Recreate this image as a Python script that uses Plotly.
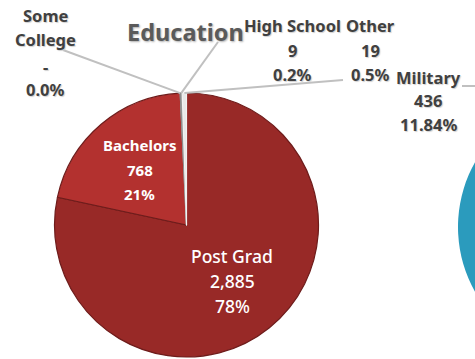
import math
import plotly.graph_objects as go

# ---------------- data ----------------
edu_labels = ["Post Grad", "Bachelors", "Some College", "High School", "Other"]
edu_values = [2885, 768, 0, 9, 19]
edu_pct_decimals = [0, 0, 1, 1, 1]

mil_labels = ["Military", "Civilian"]
mil_values = [436, 3245]
mil_pct_decimals = [2, 2]

title_text = "Education"

# ---------------- styling / layout constants ----------------
W, H = 730, 359
R = 132
EDU_C = (186.5, 225)
MIL_C = (590, 227)
MIL_ROTATION = 300

edu_colors = ["#982927", "#b3312f", "#d9d9d9", "#a0a0a0", "#e8e8e8"]
edu_line = ["#6e1c1b", "#6e1c1b", "#bfbfbf", "#8c8c8c", "#f2f2f2"]
mil_colors = ["#3aa7c6", "#2b9bbd"]

FONT = "Noto Sans, Open Sans, sans-serif"
LABEL_GRAY = "#404040"
LEADER = "#c0c0c0"

# outside label placement (px): centre x, row y's, leader end point
outside = {
    "Some College": dict(x=45, rows=[15, 40, 66, 89], end=(63, 50), name_lines=["Some", "College"]),
    "High School": dict(x=292, rows=[25, 50, 75], end=(218, 42), name_lines=["High School"]),
    "Other": dict(x=370, rows=[25, 50, 75], end=(343, 80), name_lines=["Other"]),
}
mil_outside = {
    "Military": dict(x=428, rows=[77, 100, 124], end=(462, 86), name_lines=["Military"]),
}
inside_rows = {"Post Grad": (17.5, 500, 25), "Bachelors": (15, 700, 24.5)}


def px(x, y):
    return x / W, 1 - y / H


def domain(c):
    cx, cy = c
    return dict(x=[(cx - R) / W, (cx + R) / W], y=[max(0, 1 - (cy + R) / H), min(1, 1 - (cy - R) / H)])


def mid_angles(values, rotation=0):
    tot = sum(values)
    out, acc = [], 0
    for v in values:
        out.append(rotation + (acc + v / 2) / tot * 360)
        acc += v
    return out


def polar(c, ang, rr):
    a = math.radians(ang)
    return c[0] + rr * math.sin(a), c[1] - rr * math.cos(a)


def pct_text(values, decimals):
    tot = sum(values)
    return [f"{v / tot * 100:.{d}f}%" for v, d in zip(values, decimals)]


def count_text(values):
    return [f"{v:,}" if v else "-" for v in values]


fig = go.Figure()
fig.add_trace(go.Pie(
    labels=edu_labels, values=edu_values, sort=False, direction="clockwise", rotation=0,
    domain=domain(EDU_C), textinfo="none", showlegend=False,
    marker=dict(colors=edu_colors, line=dict(color=edu_line, width=1.2)),
))
fig.add_trace(go.Pie(
    labels=mil_labels, values=mil_values, sort=False, direction="clockwise", rotation=MIL_ROTATION,
    domain=domain(MIL_C), textinfo="none", showlegend=False,
    marker=dict(colors=mil_colors, line=dict(color="#ffffff", width=0)),
))

annotations = []
shapes = []


def add_rows(lines, x, rows, size, color, weight, shadow="none"):
    for line, y in zip(lines, rows):
        ax, ay = px(x, y)
        annotations.append(dict(
            x=ax, y=ay, xref="paper", yref="paper", text=line, showarrow=False,
            xanchor="center", yanchor="middle",
            font=dict(family=FONT, size=size, color=color, weight=weight, shadow=shadow),
        ))


edu_pct = pct_text(edu_values, edu_pct_decimals)
edu_cnt = count_text(edu_values)
edu_mid = mid_angles(edu_values)

for i, lab in enumerate(edu_labels):
    if lab in inside_rows:
        size, weight, sp = inside_rows[lab]
        cx, cy = polar(EDU_C, edu_mid[i], 0.55 * R)
        add_rows([lab, edu_cnt[i], edu_pct[i]], cx, [cy - sp, cy, cy + sp], size, "#ffffff", weight)
    else:
        o = outside[lab]
        add_rows(o["name_lines"] + [edu_cnt[i], edu_pct[i]], o["x"], o["rows"], 16.5, LABEL_GRAY, 700,
                 "1px 1px 1px #d0d0d0")
        sx, sy = polar(EDU_C, edu_mid[i], R)
        x0, y0 = px(sx, sy)
        x1, y1 = px(*o["end"])
        shapes.append(dict(type="line", xref="paper", yref="paper", x0=x0, y0=y0, x1=x1, y1=y1,
                           line=dict(color=LEADER, width=2)))

mil_pct = pct_text(mil_values, mil_pct_decimals)
mil_cnt = count_text(mil_values)
mil_mid = mid_angles(mil_values, MIL_ROTATION)
for i, lab in enumerate(mil_labels):
    if lab in mil_outside:
        o = mil_outside[lab]
        add_rows(o["name_lines"] + [mil_cnt[i], mil_pct[i]], o["x"], o["rows"], 16.5, LABEL_GRAY, 700,
                 "1px 1px 1px #d0d0d0")
        sx, sy = polar(MIL_C, mil_mid[i], R)
        ex, ey = o["end"]
        p0 = px(ex, ey)
        p1 = px(ex + 40, ey)
        p2 = px(sx, sy)
        shapes.append(dict(type="path", xref="paper", yref="paper",
                           path=f"M {p0[0]} {p0[1]} L {p1[0]} {p1[1]} L {p2[0]} {p2[1]}",
                           line=dict(color=LEADER, width=2)))

tx, ty = px(185, 32)
annotations.append(dict(x=tx, y=ty, xref="paper", yref="paper", text=title_text, showarrow=False,
                        xanchor="center", yanchor="middle",
                        font=dict(family=FONT, size=23.5, color="#5a5a5a", weight=700,
                                  shadow="1px 1px 2px #b0b0b0")))

fig.update_layout(
    width=W, height=H, margin=dict(l=0, r=0, t=0, b=0),
    paper_bgcolor="#ffffff", plot_bgcolor="#ffffff",
    annotations=annotations, shapes=shapes, showlegend=False,
)

fig.write_html(
    "out.html",
    post_script="document.documentElement.style.overflow='hidden';"
                "document.body.style.overflow='hidden';document.body.style.margin='0';",
)
